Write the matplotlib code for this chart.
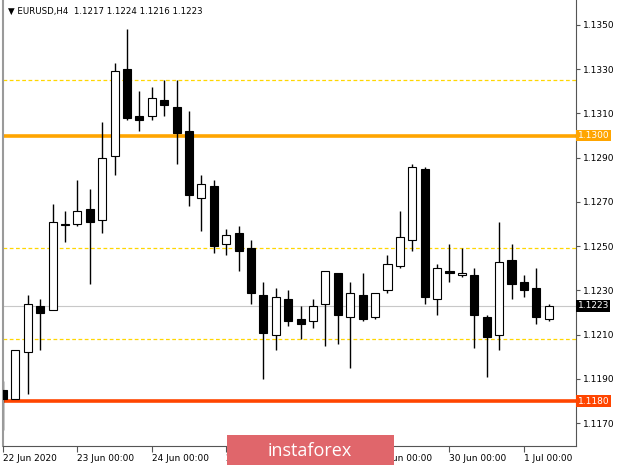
import numpy as np
import matplotlib
matplotlib.use("Agg")
from matplotlib import pyplot as plt
from matplotlib.patches import Rectangle

# EURUSD H4 свечи
opens = [1.1185, 1.1181, 1.1202, 1.1223, 1.1221, 1.1260, 1.1260, 1.1267, 1.1262, 1.1291,
         1.1330, 1.1309, 1.1309, 1.1316, 1.1313, 1.1302, 1.1272, 1.1277, 1.1251, 1.1256,
         1.1249, 1.1228, 1.1210, 1.1226, 1.1217, 1.1216, 1.1224, 1.1238, 1.1218, 1.1228,
         1.1218, 1.1230, 1.1241, 1.1253, 1.1285, 1.1226, 1.1239, 1.1237, 1.1237, 1.1218,
         1.1210, 1.1244, 1.1234, 1.1231, 1.1217]
highs = [1.1189, 1.1203, 1.1228, 1.1226, 1.1269, 1.1266, 1.1280, 1.1276, 1.1306, 1.1333,
         1.1348, 1.1320, 1.1322, 1.1325, 1.1325, 1.1311, 1.1282, 1.1280, 1.1258, 1.1259,
         1.1253, 1.1234, 1.1231, 1.1230, 1.1223, 1.1226, 1.1239, 1.1238, 1.1234, 1.1238,
         1.1229, 1.1246, 1.1266, 1.1287, 1.1286, 1.1242, 1.1251, 1.1249, 1.1240, 1.1219,
         1.1261, 1.1251, 1.1237, 1.1240, 1.1224]
lows = [1.1167, 1.1181, 1.1183, 1.1203, 1.1221, 1.1252, 1.1259, 1.1233, 1.1256, 1.1282,
        1.1307, 1.1302, 1.1307, 1.1309, 1.1287, 1.1268, 1.1257, 1.1247, 1.1246, 1.1239,
        1.1224, 1.1190, 1.1203, 1.1214, 1.1208, 1.1213, 1.1205, 1.1206, 1.1195, 1.1216,
        1.1217, 1.1229, 1.1240, 1.1248, 1.1224, 1.1219, 1.1234, 1.1236, 1.1204, 1.1191,
        1.1203, 1.1226, 1.1227, 1.1215, 1.1216]
closes = [1.1181, 1.1203, 1.1224, 1.1220, 1.1261, 1.12595, 1.1266, 1.1261, 1.1290, 1.1329,
          1.1308, 1.1307, 1.1317, 1.1314, 1.1301, 1.1273, 1.1278, 1.1250, 1.1255, 1.1248,
          1.1229, 1.1211, 1.1227, 1.1216, 1.1215, 1.1223, 1.1239, 1.1219, 1.1229, 1.1217,
          1.1229, 1.1242, 1.1254, 1.1286, 1.1227, 1.1240, 1.1238, 1.1238, 1.1219, 1.1209,
          1.1243, 1.1233, 1.1230, 1.1218, 1.1223]

date_labels = ["22 Jun 2020", "23 Jun 00:00", "24 Jun 00:00", "25 Jun 00:00",
               "26 Jun 00:00", "29 Jun 00:00", "30 Jun 00:00", "1 Jul 00:00"]
date_bars = [0, 6, 12, 18, 24, 30, 36, 42]
price_ticks = [1.1170, 1.1190, 1.1210, 1.1230, 1.1250, 1.1270, 1.1290, 1.1310, 1.1330, 1.1350]

resistance = 1.1300
support = 1.1180
last_price = 1.1223
dotted_levels = [1.1325, 1.1249, 1.1208]

fig = plt.figure(figsize=(6.2, 4.65), dpi=100)
ax = fig.add_axes([3 / 620, 19 / 465, 573 / 620, 446 / 465])

x = np.arange(len(opens))
o = np.array(opens)
c = np.array(closes)
up = c >= o

# уровни
for lvl in dotted_levels:
    ax.axhline(lvl, color="#FFD700", lw=0.9, ls=(0, (3, 2)), zorder=1)
ax.axhline(last_price, color="#C8C8C8", lw=0.8, zorder=1)
ax.axhline(resistance, color="#FFA500", lw=2.6, zorder=1)
ax.axhline(support, color="#FF4500", lw=2.6, zorder=1)

# свечи
ax.vlines(x, lows, highs, color="black", lw=1, zorder=2)
body = np.maximum(np.abs(c - o), 0.00004)
ax.bar(x, body, bottom=np.minimum(o, c), width=0.65,
       color=np.where(up, "white", "black"), edgecolor="black", lw=0.8, zorder=3)

ax.set_xlim(0, 46.2)
ax.set_ylim(1.11597, 1.13613)

ax.spines["top"].set_visible(False)
ax.spines["left"].set_color("#9A9A9A")
ax.spines["left"].set_linewidth(1.5)
ax.spines["right"].set_color("#555555")
ax.spines["bottom"].set_color("#555555")

ax.yaxis.tick_right()
ax.set_yticks(price_ticks)
ax.set_yticklabels(["%.4f" % p for p in price_ticks])
ax.tick_params(axis="y", length=3, width=0.8, color="#555555", labelsize=6.5, pad=2)
ax.set_xticks(date_bars)
ax.set_xticklabels(date_labels, ha="left")
ax.tick_params(axis="x", length=4, width=0.8, color="#555555", labelsize=6.5, pad=2)

# метки цен справа
for price, col in [(resistance, "#FFA500"), (last_price, "black"), (support, "#FF4500")]:
    ax.text(1.003, price, "%.4f" % price, transform=ax.get_yaxis_transform(),
            ha="left", va="center", fontsize=6.5, color="white",
            bbox=dict(boxstyle="square,pad=0.15", fc=col, ec="none"), zorder=5)

ax.text(0.008, 0.985, "\u25bc EURUSD,H4  1.1217 1.1224 1.1216 1.1223",
        transform=ax.transAxes, ha="left", va="top", fontsize=6.2, color="black")

# водяной знак
fig.add_artist(Rectangle((227 / 620, 0), 167 / 620, 30 / 465, transform=fig.transFigure,
                         fc="#E0666B", ec="none", zorder=10))
fig.text(310 / 620, 14 / 465, "instaforex", ha="center", va="center",
         fontsize=13, family="Open Sans", color="white", zorder=11)

fig.savefig("out.png", dpi=100)
